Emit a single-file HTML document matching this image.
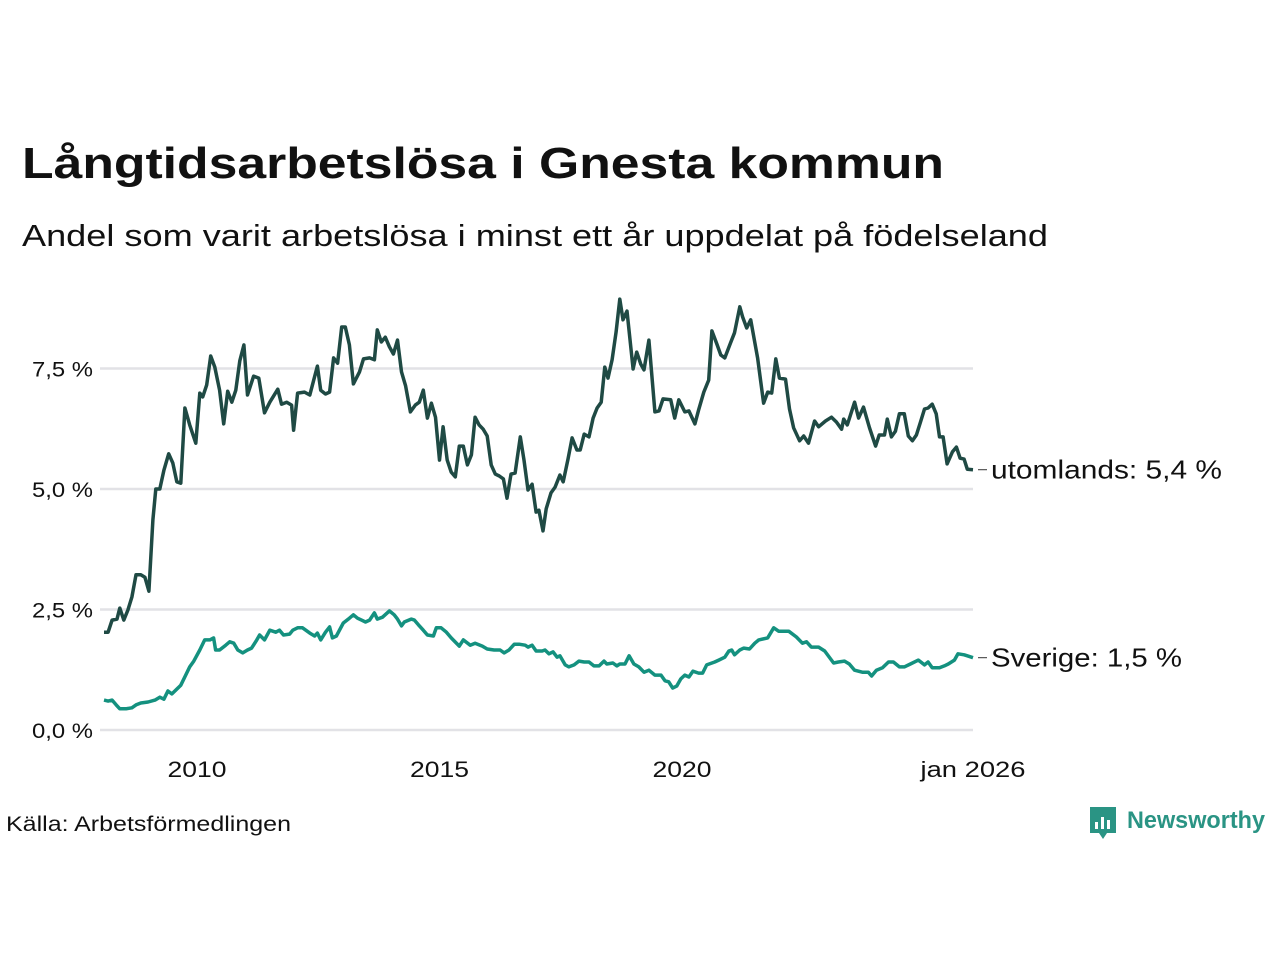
<!DOCTYPE html>
<html><head><meta charset="utf-8"><style>
body{margin:0;background:#fff;width:1280px;height:960px;overflow:hidden;font-family:"Liberation Sans",sans-serif}
svg text{font-family:"Liberation Sans",sans-serif}
</style></head><body>
<svg id="c" width="1280" height="960">
<text x="22" y="178" font-size="44" font-weight="bold" fill="#111" textLength="922" lengthAdjust="spacingAndGlyphs">Långtidsarbetslösa i Gnesta kommun</text>
<text x="22" y="246" font-size="31" fill="#111" textLength="1026" lengthAdjust="spacingAndGlyphs">Andel som varit arbetslösa i minst ett år uppdelat på födelseland</text>
<g id="grid"></g><g id="yl"></g><g id="xl"></g><g id="lines"></g>
<text x="6" y="831" font-size="21" fill="#111" textLength="285" lengthAdjust="spacingAndGlyphs">Källa: Arbetsförmedlingen</text>
<g>
<path d="M1090 807h26v26h-9l-4 6-4-6h-9z" fill="#2a9484"/>
<rect x="1095" y="822" width="3" height="7" fill="#fff"/><rect x="1101" y="817" width="3" height="12" fill="#fff"/><rect x="1107" y="820" width="3" height="9" fill="#fff"/>
<text x="1127" y="828" font-size="24" font-weight="bold" fill="#2a9484" textLength="138" lengthAdjust="spacingAndGlyphs">Newsworthy</text>
</g>
</svg>
<script>
const yTicks=[0,2.5,5,7.5];
const yTickLabels=["0,0 %","2,5 %","5,0 %","7,5 %"];
const xTicks=[24,84,144,216];
const xTickLabels=["2010","2015","2020","jan 2026"];
const utMonths=[1,2,3,4.2,4.9,5.9,6.9,7.9,8.9,10.1,11.1,12.1,13.1,13.8,14.8,15.8,17,18,19,20,21,22.2,23.7,24.7,25.4,26.4,27.4,28.4,29.6,30.6,31.6,32.6,33.6,34.6,35.6,36.5,38,39.3,40.7,42,44,44.9,46.2,47.4,47.9,48.9,50.6,51.9,53.8,54.6,55.8,56.8,57.8,58.8,59.8,60.7,61.7,62.7,64.2,65.2,66.7,67.9,68.6,69.6,70.6,71.6,72.6,73.6,74.6,75.6,76.8,78,79,80,81,82,83,84,84.9,85.9,86.9,87.9,88.9,89.9,90.9,91.9,92.8,93.8,94.8,95.8,96.8,97.8,98.8,99.8,100.7,101.7,102.7,104,104.9,105.9,106.9,107.9,108.6,109.6,110.4,111.6,112.6,113.8,114.6,115.8,116.8,118,118.8,119.8,121,122,123,124,124.9,125.7,126.7,127.7,128.6,129.4,130.4,131.9,132.8,133.8,134.6,135.8,137.3,138.3,139.3,141.2,142.2,143.2,144.7,145.7,147.2,148.1,149.4,150.6,151.4,152.6,153.6,154.6,156,157,158.3,159,160,161,162.7,164.2,165.2,166.2,167.2,168.1,169.6,170.6,171.6,173.1,174.1,175.3,176.8,177.8,179.5,181,182.2,183.5,184,184.9,186.7,187.7,188.9,190.4,191.9,192.8,194.1,194.8,195.8,196.8,197.8,199,200,201,202,203,204,204.9,205.9,206.9,207.7,208.6,209.6,210.9,211.9,212.8,213.8,214.6,216];
const utValues=[2.03,2.03,2.28,2.3,2.53,2.28,2.49,2.76,3.22,3.22,3.17,2.88,4.36,5,5,5.39,5.73,5.54,5.15,5.12,6.68,6.33,5.95,6.99,6.91,7.16,7.76,7.53,7.05,6.35,7.03,6.8,7.05,7.66,7.99,6.95,7.34,7.3,6.58,6.8,7.07,6.76,6.8,6.74,6.22,6.99,7.01,6.95,7.55,7.05,6.97,7.01,7.72,7.61,8.36,8.36,7.99,7.18,7.43,7.7,7.72,7.68,8.3,8.05,8.15,7.95,7.8,8.09,7.43,7.14,6.6,6.74,6.8,7.05,6.47,6.78,6.49,5.6,6.29,5.6,5.35,5.25,5.89,5.89,5.5,5.71,6.49,6.33,6.24,6.1,5.5,5.31,5.27,5.21,4.81,5.31,5.33,6.08,5.6,4.98,5.1,4.52,4.56,4.13,4.59,4.92,5.04,5.29,5.15,5.62,6.06,5.81,5.81,6.14,6.08,6.47,6.68,6.8,7.53,7.3,7.68,8.26,8.94,8.51,8.69,7.49,7.84,7.59,7.47,8.09,6.6,6.62,6.87,6.85,6.47,6.85,6.6,6.62,6.35,6.64,7.01,7.26,8.28,8.01,7.78,7.72,8.03,8.24,8.78,8.57,8.34,8.51,7.72,6.78,7.01,6.99,7.7,7.3,7.28,6.66,6.27,6,6.1,5.95,6.41,6.29,6.41,6.49,6.39,6.24,6.45,6.33,6.8,6.47,6.7,6.27,5.89,6.12,6.12,6.45,6.08,6.2,6.56,6.56,6.1,6,6.12,6.39,6.66,6.68,6.76,6.56,6.08,6.08,5.52,5.77,5.87,5.64,5.62,5.41,5.4];
const seMonths=[1,2,3,4,4.9,6.4,7.9,8.9,10.1,11.9,13.6,14.8,15.8,16.8,17.8,20,21.2,22.2,23.2,24.7,25.9,27.2,28.1,28.6,29.6,31.1,32.1,33.1,34.1,35.3,36.5,37.5,38.8,39.5,40.7,42,43.5,44.4,45.4,46.9,47.7,48.9,50.1,51.9,53.1,53.8,54.6,55.8,56.8,57.5,58.5,60.2,61.7,62.7,63.7,64.7,65.7,66.7,67.9,68.6,69.9,71.6,72.8,73.6,74.6,75.3,77,77.8,78.8,80,81,82.5,83.2,84.4,85.7,86.9,88.9,89.9,91.6,92.8,94.6,95.8,97.5,99,100,101.2,102.5,103.7,105.2,105.9,106.9,107.9,109.4,110.1,111.1,112.1,113.1,113.8,115.1,116,117.3,118.5,119.8,121,122.2,123.5,124.7,125.4,126.9,127.9,128.6,129.9,130.9,132.1,133.3,134.6,135.8,137.3,138.8,139.8,140.7,141.7,142.7,143.7,144.7,145.7,146.7,148.1,149.1,150.1,152.1,153.1,154.6,155.6,156.3,157,158.3,159.3,160.7,162,163,165.2,166.7,167.9,170.4,172.3,173.8,174.8,176,177.8,179.3,181.5,182.7,184.2,185.4,186.7,188.6,190.1,190.9,192.1,193.6,195.1,196.3,197.8,199,200.5,202.5,204,204.9,205.9,207.7,208.9,209.9,211.4,212.3,213.8,214.6,216];
const seValues=[0.62,0.6,0.62,0.52,0.44,0.44,0.46,0.52,0.56,0.58,0.62,0.68,0.64,0.81,0.75,0.93,1.14,1.31,1.43,1.66,1.87,1.87,1.91,1.66,1.66,1.76,1.83,1.8,1.66,1.6,1.66,1.7,1.87,1.97,1.87,2.07,2.03,2.07,1.97,1.99,2.07,2.12,2.12,2.01,1.95,2.01,1.87,2.03,2.14,1.91,1.95,2.22,2.32,2.39,2.32,2.28,2.24,2.28,2.43,2.3,2.34,2.47,2.39,2.3,2.16,2.24,2.3,2.28,2.18,2.07,1.97,1.95,2.12,2.12,2.03,1.91,1.74,1.87,1.76,1.8,1.74,1.68,1.66,1.66,1.6,1.66,1.78,1.78,1.76,1.72,1.76,1.64,1.64,1.66,1.58,1.62,1.51,1.54,1.35,1.31,1.35,1.43,1.41,1.41,1.33,1.33,1.43,1.37,1.39,1.33,1.37,1.37,1.54,1.37,1.31,1.2,1.24,1.14,1.14,1.02,1,0.87,0.91,1.06,1.14,1.1,1.22,1.18,1.18,1.35,1.41,1.45,1.51,1.64,1.66,1.56,1.66,1.7,1.68,1.8,1.87,1.91,2.12,2.05,2.05,1.93,1.8,1.83,1.72,1.72,1.64,1.39,1.41,1.43,1.37,1.24,1.2,1.2,1.12,1.24,1.29,1.41,1.41,1.31,1.31,1.37,1.45,1.35,1.41,1.29,1.29,1.33,1.37,1.45,1.58,1.56,1.54,1.5];
const NS="http://www.w3.org/2000/svg";
function X(m){return 100+m*(873/216);}
function Y(v){return 730-v*48.2;}
function mk(tag,attrs,parent){const e=document.createElementNS(NS,tag);for(const k in attrs)e.setAttribute(k,attrs[k]);parent.appendChild(e);return e;}
const grid=document.getElementById('grid'),yl=document.getElementById('yl'),xl=document.getElementById('xl'),lines=document.getElementById('lines');
yTicks.forEach((t,i)=>{
 const l=mk('line',{x1:100,x2:973,y1:Y(t),y2:Y(t),stroke:'#e2e2e6','stroke-width':2.5},grid);
 
 
 const tx=mk('text',{x:93,y:Y(t)+8,'text-anchor':'end','font-size':21,fill:'#111',textLength:61,lengthAdjust:'spacingAndGlyphs'},yl);
 tx.textContent=yTickLabels[i];
 
 
});
xTicks.forEach((t,i)=>{
 const tl=xTickLabels[i].length>4?105:59;
 const tx=mk('text',{x:X(t),y:777,'text-anchor':'middle','font-size':22,fill:'#111',textLength:tl,lengthAdjust:'spacingAndGlyphs'},xl);
 tx.textContent=xTickLabels[i];
 
 
});
function draw(ms,vs,color,name,label,tl){
 const d=ms.map((m,i)=>(i?'L':'M')+X(m).toFixed(1)+' '+Y(vs[i]).toFixed(1)).join('');
 const p=mk('path',{d:d,fill:'none',stroke:color,'stroke-width':3.5,'stroke-linejoin':'round'},lines);
 
 
 const ly=Y(vs[vs.length-1]);
 const dl=mk('line',{x1:978,x2:987,y1:ly,y2:ly,stroke:'#333','stroke-width':1},lines);
 
 
 const t=mk('text',{x:991,y:ly+9,'font-size':26,fill:'#111',textLength:tl,lengthAdjust:'spacingAndGlyphs'},lines);
 t.textContent=label;
 
 
}
draw(seMonths,seValues,'#14917f','sverige','Sverige: 1,5 %',191);
draw(utMonths,utValues,'#1f4a44','utomlands','utomlands: 5,4 %',231);
</script>
</body></html>
